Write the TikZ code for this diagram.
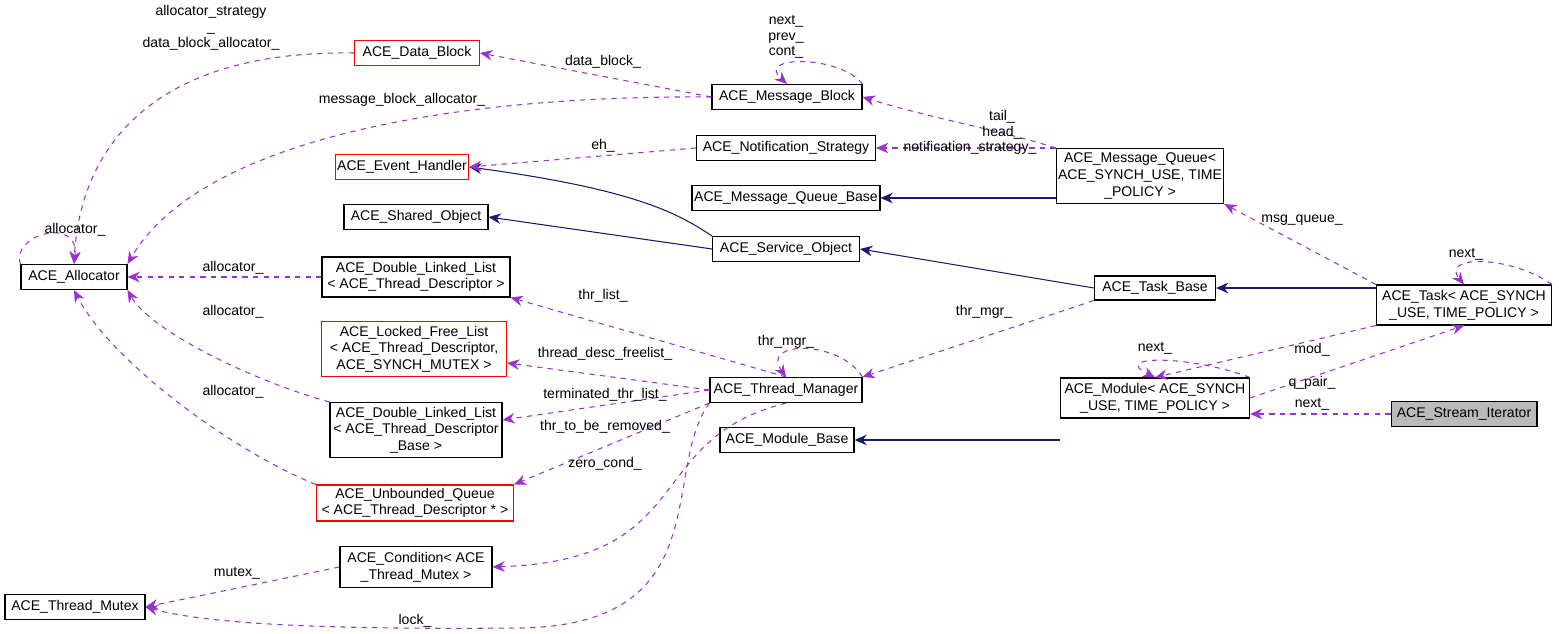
\documentclass[tikz,border=0pt]{standalone}
\usepackage{fontspec}
\setmainfont{Liberation Sans}
\usetikzlibrary{arrows.meta}
\definecolor{dep}{RGB}{153,50,204}
\definecolor{inh}{RGB}{25,25,112}
\tikzset{
  box/.style={draw=black,fill=white,align=center,inner sep=1pt,line width=0.6pt,font=\fontsize{8}{9.5}\selectfont},
  redbox/.style={box,draw=red},
  use/.style={dep,dashed,line width=0.6pt,-{Stealth[length=7pt,width=6pt]}},
  isa/.style={inh,line width=0.6pt,-{Stealth[length=7pt,width=6pt]}},
  lbl/.style={align=center,inner sep=0pt,font=\fontsize{8}{9}\selectfont}
}
\begin{document}
\begin{tikzpicture}[x=0.02cm,y=-0.02cm]
\useasboundingbox (0,0) rectangle (1559,634);
% classes
\node[redbox,minimum width=2.5cm,minimum height=0.5cm] (db) at (417,53) {ACE\_Data\_Block};
\node[box,minimum width=3cm,minimum height=0.5cm] (mb) at (787,97) {ACE\_Message\_Block};
\node[box,minimum width=3.58cm,minimum height=0.5cm] (ns) at (786,148) {ACE\_Notification\_Strategy};
\node[redbox,minimum width=2.28cm,minimum height=0.5cm] (eh) at (402,167) {ACE\_Event\_Handler};
\node[box,minimum width=3.76cm,minimum height=0.5cm] (mqb) at (786,198) {ACE\_Message\_Queue\_Base};
\node[box,minimum width=3.06cm,minimum height=1.1cm] (mq) at (1140,176) {ACE\_Message\_Queue\textless\\ ACE\_SYNCH\_USE, TIME\\ \_POLICY \textgreater};
\node[box,minimum width=2.88cm,minimum height=0.5cm] (so) at (416,217) {ACE\_Shared\_Object};
\node[box,minimum width=2.94cm,minimum height=0.5cm] (svc) at (786,249) {ACE\_Service\_Object};
\node[box,minimum width=2.12cm,minimum height=0.5cm] (alloc) at (74,277) {ACE\_Allocator};
\node[box,minimum width=3.76cm,minimum height=0.8cm] (dll) at (416,277) {ACE\_Double\_Linked\_List\\ \textless\ ACE\_Thread\_Descriptor \textgreater};
\node[box,minimum width=2.42cm,minimum height=0.48cm] (tb) at (1155,288) {ACE\_Task\_Base};
\node[box,minimum width=3.5cm,minimum height=0.8cm] (task) at (1464,305) {ACE\_Task\textless\ ACE\_SYNCH\\ \_USE, TIME\_POLICY \textgreater};
\node[redbox,minimum width=3.7cm,minimum height=1.1cm] (lfl) at (414,349) {ACE\_Locked\_Free\_List\\ \textless\ ACE\_Thread\_Descriptor,\\ ACE\_SYNCH\_MUTEX \textgreater};
\node[box,minimum width=3.04cm,minimum height=0.5cm] (tm) at (786,390) {ACE\_Thread\_Manager};
\node[box,minimum width=3.78cm,minimum height=0.8cm] (mod) at (1155,398) {ACE\_Module\textless\ ACE\_SYNCH\\ \_USE, TIME\_POLICY \textgreater};
\node[box,fill=black!27,minimum width=2.92cm,minimum height=0.5cm] (si) at (1464,414) {ACE\_Stream\_Iterator};
\node[box,minimum width=3.44cm,minimum height=1.1cm] (dllb) at (416,430) {ACE\_Double\_Linked\_List\\ \textless\ ACE\_Thread\_Descriptor\\ \_Base \textgreater};
\node[box,minimum width=2.68cm,minimum height=0.5cm] (mbase) at (787,440) {ACE\_Module\_Base};
\node[redbox,minimum width=3.94cm,minimum height=0.72cm] (uq) at (415,503) {ACE\_Unbounded\_Queue\\ \textless\ ACE\_Thread\_Descriptor * \textgreater};
\node[box,minimum width=3.04cm,minimum height=0.82cm] (cond) at (416,567) {ACE\_Condition\textless\ ACE\\ \_Thread\_Mutex \textgreater};
\node[box,minimum width=2.8cm,minimum height=0.5cm] (mtx) at (75,607) {ACE\_Thread\_Mutex};
% inheritance
\draw[isa] (mq.west |- mqb) -- (mqb);
\draw[isa] (svc.north west) .. controls (680,215) and (640,190) .. (eh.east);
\draw[isa] (svc.west) -- (so.east);
\draw[isa] (tb.west) -- (svc.east);
\draw[isa] (task.west |- tb) -- (tb.east);
\draw[isa] (mod.west |- mbase) -- (mbase.east);
% usage
\draw[use] (mb.west) -- (db.east);
\draw[use] (mb.north east) .. controls (840,55) and (755,55) .. (mb.north);
\draw[use] (mb.west) .. controls (450,95) and (200,140) .. (alloc.north east);
\draw[use] (db.west) .. controls (150,50) and (80,150) .. (alloc.north);
\draw[use] (alloc.north west) .. controls (10,235) and (80,215) .. (alloc.north);
\draw[use] (mq.north west) .. controls (1000,130) and (930,118) .. (mb.east);
\draw[use] (ns.west) -- (eh.east);
\draw[use] (mq.west |- ns) -- (ns.east);
\draw[use] (dll.west) -- (alloc.east);
\draw[use] (dllb.north west) .. controls (250,380) and (150,330) .. (alloc.south east);
\draw[use] (uq.north west) .. controls (230,450) and (110,360) .. (alloc.south);
\draw[use] (tm.north) -- (dll.south east);
\draw[use] (tm.west) -- (lfl.east |- 0,363);
\draw[use] (tm.west) -- (dllb.east |- 0,420);
\draw[use] (tm.south west) -- (uq.north east);
\draw[use] (tm.south) .. controls (640,440) and (700,560) .. (cond.east);
\draw[use] (tm.south west) .. controls (660,470) and (720,625) .. (520,628) .. controls (300,630) and (200,622) .. (mtx.east);
\draw[use] (tm.north east) .. controls (840,340) and (760,340) .. (tm.north);
\draw[use] (tb.south west) -- (tm.north east);
\draw[use] (cond.west) -- (mtx.east);
\draw[use] (task.north west) -- (mq.south east);
\draw[use] (task.north east) .. controls (1510,255) and (1440,255) .. (task.north);
\draw[use] (task.south west) -- (mod.north);
\draw[use] (mod.east) -- (task.south);
\draw[use] (mod.north east) .. controls (1190,355) and (1110,355) .. (mod.north);
\draw[use] (si.west) -- (mod.east |- si);
% labels
\node[lbl] (l1) at (211,28) {allocator\_strategy\\ \_\\ data\_block\_allocator\_};
\node[lbl] (l2) at (603,62) {data\_block\_};
\node[lbl] (l3) at (786,37) {next\_\\ prev\_\\ cont\_};
\node[lbl] (l4) at (402,100) {message\_block\_allocator\_};
\node[lbl] (l5) at (1002,125) {tail\_\\ head\_};
\node[lbl] (l6) at (603,146) {eh\_};
\node[lbl] (l7) at (970,148) {notification\_strategy\_};
\node[lbl] (l8) at (75,230) {allocator\_};
\node[lbl] (l9) at (233,268) {allocator\_};
\node[lbl] (l10) at (233,312) {allocator\_};
\node[lbl] (l11) at (233,392) {allocator\_};
\node[lbl] (l12) at (603,296) {thr\_list\_};
\node[lbl] (l13) at (605,354) {thread\_desc\_freelist\_};
\node[lbl] (l14) at (605,395) {terminated\_thr\_list\_};
\node[lbl] (l15) at (605,427) {thr\_to\_be\_removed\_};
\node[lbl] (l16) at (605,464) {zero\_cond\_};
\node[lbl] (l17) at (237,573) {mutex\_};
\node[lbl] (l18) at (415,621) {lock\_};
\node[lbl] (l19) at (786,342) {thr\_mgr\_};
\node[lbl] (l20) at (984,312) {thr\_mgr\_};
\node[lbl] (l21) at (1302,220) {msg\_queue\_};
\node[lbl] (l22) at (1466,254) {next\_};
\node[lbl] (l23) at (1312,350) {mod\_};
\node[lbl] (l24) at (1312,383) {q\_pair\_};
\node[lbl] (l25) at (1155,348) {next\_};
\node[lbl] (l26) at (1312,404) {next\_};
\end{tikzpicture}
\end{document}
